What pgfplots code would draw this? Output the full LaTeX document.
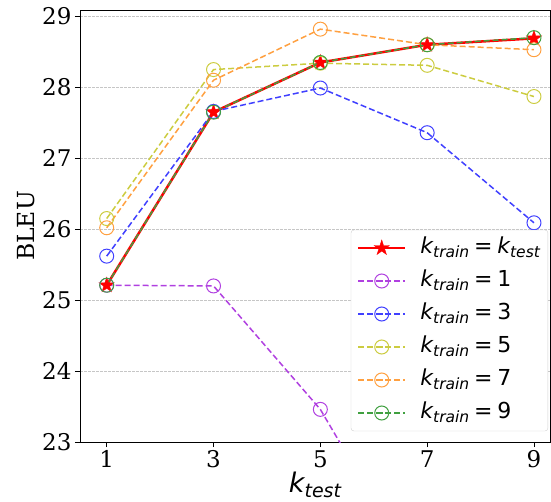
\documentclass[border=0pt]{standalone}
\usepackage{pgfplots}
\pgfplotsset{compat=1.18}
\usepackage{fontspec}
\setmainfont{DejaVu Serif}
\newfontfamily\dvs{DejaVu Sans}

\definecolor{cpurple}{RGB}{176,64,224}
\definecolor{cblue}{RGB}{64,64,255}
\definecolor{cyellow}{RGB}{204,204,64}
\definecolor{corange}{RGB}{255,160,64}
\definecolor{cgreen}{RGB}{64,160,64}

% filled five-point star
\pgfdeclareplotmark{fstar}{%
  \pgfpathmoveto{\pgfqpointpolar{90}{\pgfplotmarksize}}%
  \pgfpathlineto{\pgfqpointpolar{126}{0.382\pgfplotmarksize}}%
  \pgfpathlineto{\pgfqpointpolar{162}{\pgfplotmarksize}}%
  \pgfpathlineto{\pgfqpointpolar{198}{0.382\pgfplotmarksize}}%
  \pgfpathlineto{\pgfqpointpolar{234}{\pgfplotmarksize}}%
  \pgfpathlineto{\pgfqpointpolar{270}{0.382\pgfplotmarksize}}%
  \pgfpathlineto{\pgfqpointpolar{306}{\pgfplotmarksize}}%
  \pgfpathlineto{\pgfqpointpolar{342}{0.382\pgfplotmarksize}}%
  \pgfpathlineto{\pgfqpointpolar{18}{\pgfplotmarksize}}%
  \pgfpathlineto{\pgfqpointpolar{54}{0.382\pgfplotmarksize}}%
  \pgfpathclose
  \pgfusepathqfillstroke}

% k with italic subscript: #1 subscript, #2 subscript size
\newcommand{\kt}[2]{{\itshape k}\raisebox{-0.35ex}{\fontsize{#2}{#2}\selectfont\itshape #1}}
\newcommand{\eq}{\hspace{0.22em}=\hspace{0.22em}}

\begin{document}
\begin{tikzpicture}
\begin{axis}[
  scale only axis, width=470pt, height=432pt,
  xmin=0.5, xmax=9.3, ymin=23, ymax=29.09,
  xtick={1,3,5,7,9}, ytick={23,24,...,29},
  tick align=outside, tick pos=left, major tick length=5pt,
  tick style={black, line width=0.8pt},
  axis line style={line width=0.8pt},
  ymajorgrids,
  grid style={gray!45, line width=0.5pt, dash pattern=on 2.5pt off 1.5pt},
  /pgf/number format/assume math mode=true,
  tick label style={font=\fontsize{23}{26}\selectfont},
  ylabel={BLEU},
  every axis y label/.style={at={(axis description cs:-0.115,0.5)}, rotate=90, anchor=center, font=\fontsize{23.5}{26}\selectfont},
  xlabel={\dvs\kt{test}{19}},
  every axis x label/.style={at={(axis description cs:0.5,-0.117)}, anchor=base, font=\fontsize{27}{30}\selectfont},
  legend style={at={(rel axis cs:0.996,0.025)}, anchor=south east,
    draw=gray!35, rounded corners=3pt, fill=white,
    font=\dvs\fontsize{22}{24}\selectfont,
    nodes={inner sep=2pt, text height=16pt, text depth=6pt},
    row sep=7pt, inner xsep=6pt, inner ysep=5pt},
  legend cell align=left,
  /tikz/every odd column/.append style={column sep=12pt},
  legend image code/.code={\draw[mark repeat=2,mark phase=2] plot coordinates {(0pt,0pt)(23.5pt,0pt)(47pt,0pt)};},
  every axis plot/.append style={mark options={solid, line width=1pt, fill=none}},
]
\coordinate (bl) at (rel axis cs:0,0);
\coordinate (tr) at (rel axis cs:1,1);

\addplot[red, line width=2.5pt, mark=fstar, mark size=8pt, mark options={solid, fill=red, draw=red, line width=0.4pt}]
  coordinates {(1,25.21) (3,27.65) (5,28.35) (7,28.60) (9,28.69)};
\addlegendentry{\kt{train}{15.5}\eq\kt{test}{15.5}}

\addplot[cpurple, line width=1.5pt, dash pattern=on 6pt off 3pt, mark=o, mark size=7pt]
  coordinates {(1,25.21) (3,25.20) (5,23.46) (7,20.90) (9,19.50)};
\addlegendentry{\kt{train}{15.5}\eq 1}

\addplot[cblue, line width=1.5pt, dash pattern=on 6pt off 3pt, mark=o, mark size=7pt]
  coordinates {(1,25.62) (3,27.66) (5,27.99) (7,27.36) (9,26.09)};
\addlegendentry{\kt{train}{15.5}\eq 3}

\addplot[cyellow, line width=1.5pt, dash pattern=on 6pt off 3pt, mark=o, mark size=7pt]
  coordinates {(1,26.15) (3,28.25) (5,28.34) (7,28.31) (9,27.87)};
\addlegendentry{\kt{train}{15.5}\eq 5}

\addplot[corange, line width=1.5pt, dash pattern=on 6pt off 3pt, mark=o, mark size=7pt]
  coordinates {(1,26.02) (3,28.10) (5,28.82) (7,28.60) (9,28.53)};
\addlegendentry{\kt{train}{15.5}\eq 7}

\addplot[cgreen, line width=1.5pt, dash pattern=on 6pt off 3pt, mark=o, mark size=7pt]
  coordinates {(1,25.21) (3,27.65) (5,28.35) (7,28.60) (9,28.70)};
\addlegendentry{\kt{train}{15.5}\eq 9}
\end{axis}
\pgfresetboundingbox
\path ([shift={(-80pt,-59pt)}]bl) rectangle ([shift={(1pt,10pt)}]tr);
\end{tikzpicture}
\end{document}
